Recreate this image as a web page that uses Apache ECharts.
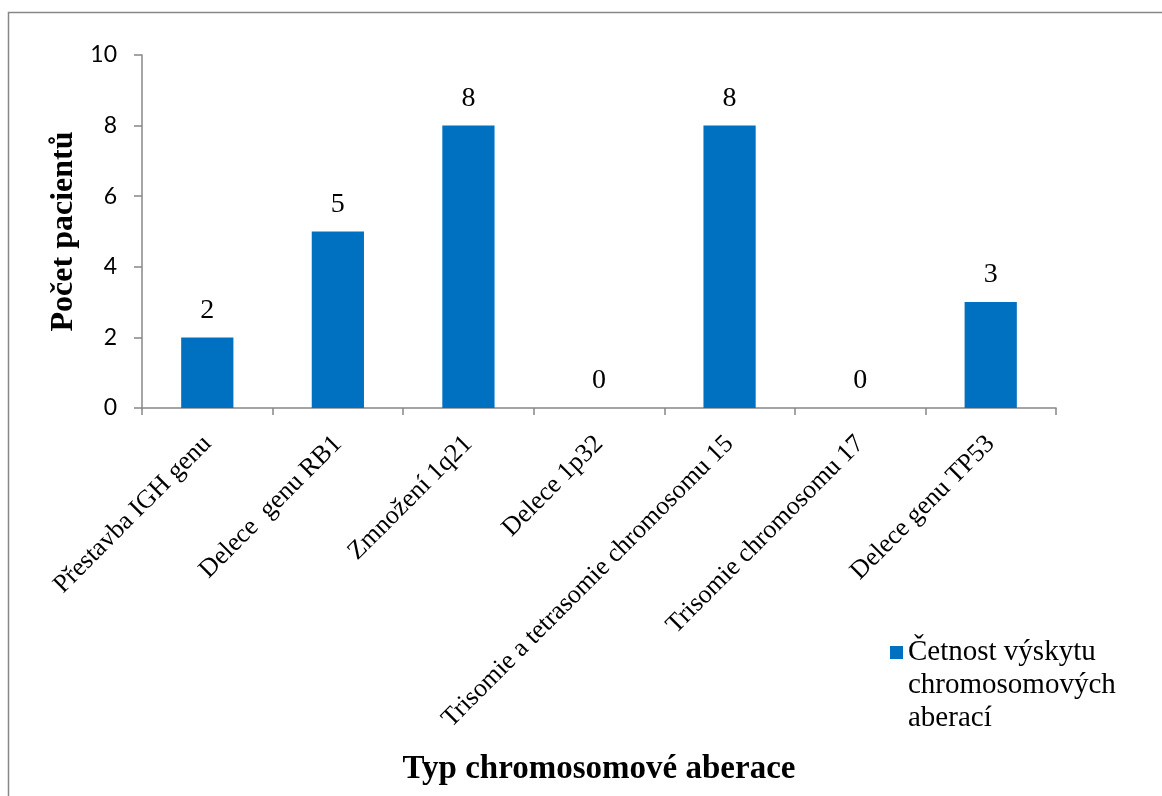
<!DOCTYPE html>
<html>
<head>
<meta charset="utf-8">
<script src="https://cdn.jsdelivr.net/npm/echarts@6/dist/echarts.min.js"></script>
<style>
  html, body { margin: 0; padding: 0; background: #fff; }
  #chart { width: 1162px; height: 796px; }
</style>
</head>
<body>
<div id="chart"></div>
<script>
// Chromosomal aberrations found in the patient group
const categories = [
  'Přestavba IGH genu',
  'Delece  genu RB1',
  'Zmnožení 1q21',
  'Delece 1p32',
  'Trisomie a tetrasomie chromosomu 15',
  'Trisomie chromosomu 17',
  'Delece genu TP53'
];
const patientCounts = [2, 5, 8, 0, 8, 0, 3];
const yTicks = { min: 0, max: 10, interval: 2 };
const seriesName = 'Četnost výskytu chromosomových aberací';
const legendLines = ['Četnost výskytu', 'chromosomových', 'aberací'];

const serif = '"Liberation Serif", "DejaVu Serif", serif';
const sans = 'Lato, "Open Sans", sans-serif';
const axisGray = '#878787';
const barBlue = '#0070C0';

const chart = echarts.init(document.getElementById('chart'), null, { renderer: 'canvas' });

chart.setOption({
  backgroundColor: '#ffffff',
  animation: false,
  graphic: [{
    type: 'rect',
    shape: { x: 8.5, y: 12.5, width: 1300, height: 1000 },
    style: { fill: 'none', stroke: axisGray, lineWidth: 1.5 },
    silent: true,
    z: -1
  }],
  grid: { left: 142, right: 106, top: 55, bottom: 388, containLabel: false },
  legend: {
    data: [seriesName],
    left: 890,
    top: 570,
    padding: 0,
    itemWidth: 13,
    itemHeight: 13,
    itemGap: 0,
    icon: 'rect',
    // two blank lines above keep the first text line level with the swatch
    formatter: () => '\n\n' + legendLines.join('\n'),
    textStyle: {
      fontFamily: serif,
      fontSize: 29,
      lineHeight: 33,
      color: '#000'
    },
    selectedMode: false
  },
  xAxis: {
    type: 'category',
    data: categories,
    name: 'Typ chromosomové aberace',
    nameLocation: 'middle',
    nameGap: 345,
    nameTextStyle: { fontFamily: serif, fontSize: 33, fontWeight: 'bold', color: '#000' },
    axisLine: { lineStyle: { color: axisGray, width: 1.5 } },
    axisTick: { show: true, length: 7, alignWithLabel: false, lineStyle: { color: axisGray, width: 1.5 } },
    axisLabel: {
      rotate: 45,
      interval: 0,
      margin: 32,
      fontFamily: serif,
      fontSize: 26,
      color: '#000'
    }
  },
  yAxis: {
    type: 'value',
    min: yTicks.min,
    max: yTicks.max,
    interval: yTicks.interval,
    name: 'Počet pacientů',
    nameLocation: 'middle',
    nameGap: 60,
    nameTextStyle: { fontFamily: serif, fontSize: 32, fontWeight: 'bold', color: '#000' },
    axisLine: { show: true, lineStyle: { color: axisGray, width: 1.5 } },
    axisTick: { show: true, length: 8, lineStyle: { color: axisGray, width: 1.5 } },
    splitLine: { show: false },
    axisLabel: { margin: 25, fontFamily: sans, fontSize: 23, color: '#000' }
  },
  series: [{
    name: seriesName,
    type: 'bar',
    data: patientCounts,
    barCategoryGap: '60%',
    itemStyle: { color: barBlue },
    label: {
      show: true,
      position: 'top',
      distance: 13,
      fontFamily: serif,
      fontSize: 28,
      color: '#000'
    }
  }]
});
</script>
</body>
</html>
